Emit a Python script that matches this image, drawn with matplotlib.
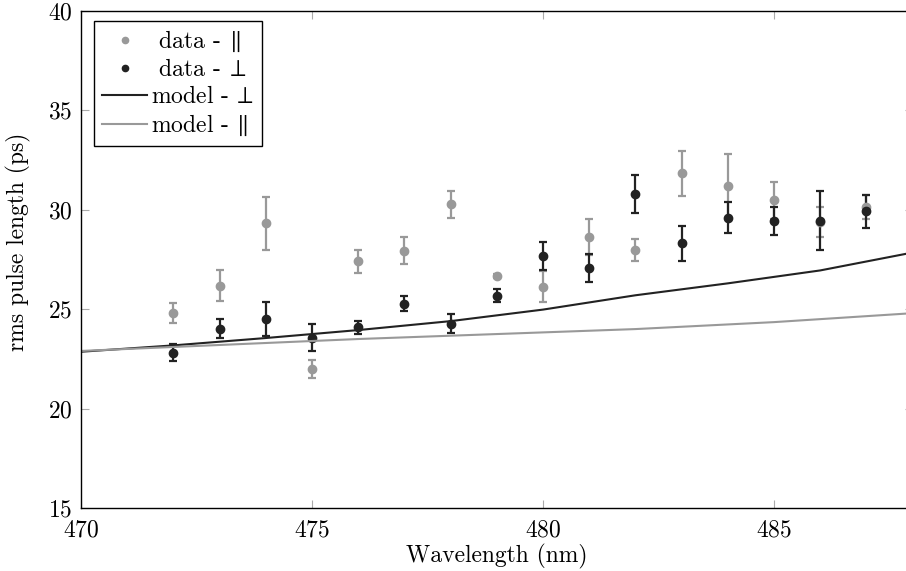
import matplotlib
matplotlib.use("Agg")
import matplotlib.pyplot as plt

plt.rcParams["font.family"] = "serif"
plt.rcParams["font.serif"] = ["cmr10"]
plt.rcParams["mathtext.fontset"] = "cm"
plt.rcParams["axes.formatter.use_mathtext"] = True

# measured data points (wavelength in nm, rms pulse length in ps)
wavelength = [472, 473, 474, 475, 476, 477, 478, 479, 480, 481, 482, 483, 484, 485, 486, 487]

par_val = [24.81, 26.18, 29.32, 21.99, 27.41, 27.93, 30.29, 26.65,
           26.13, 28.62, 27.99, 31.84, 31.21, 30.48, 29.40, 30.13]
par_err = [0.48, 0.77, 1.32, 0.43, 0.57, 0.68, 0.68, 0.10,
           0.78, 0.90, 0.56, 1.14, 1.61, 0.93, 0.75, 0.60]

perp_val = [22.80, 24.02, 24.51, 23.57, 24.10, 25.28, 24.27, 25.68,
            27.68, 27.07, 30.79, 28.31, 29.59, 29.44, 29.45, 29.92]
perp_err = [0.43, 0.49, 0.86, 0.68, 0.33, 0.39, 0.48, 0.34,
            0.71, 0.70, 0.94, 0.90, 0.78, 0.70, 1.49, 0.83]

# model curves
model_perp_x = [470, 472, 474, 476, 478, 480, 482, 484, 486, 488]
model_perp_y = [22.86, 23.18, 23.55, 23.95, 24.40, 24.98, 25.70, 26.30, 26.95, 27.85]
model_par_x = [470, 473, 476, 479, 482, 485, 488]
model_par_y = [22.90, 23.20, 23.50, 23.75, 24.00, 24.35, 24.80]

grey = "#999999"
dark = "#222222"
fs = 17

fig = plt.figure(figsize=(9.06, 5.71), dpi=100)
ax = fig.add_axes([81 / 906, 1 - 508 / 571, (912.6 - 81) / 906, (508 - 11) / 571])

# error bars first, then markers (labelled) so the legend shows only dots
ax.errorbar(wavelength, par_val, yerr=par_err, fmt="none", ecolor=grey,
            elinewidth=1.6, capsize=3.2, capthick=1.6)
ax.errorbar(wavelength, perp_val, yerr=perp_err, fmt="none", ecolor=dark,
            elinewidth=1.6, capsize=3.2, capthick=1.6)
ax.plot(wavelength, par_val, "o", color=grey, markersize=6, label=r" data - $\!\parallel$")
ax.plot(wavelength, perp_val, "o", color=dark, markersize=6, label=r" data - $\!\perp$")
ax.plot(model_perp_x, model_perp_y, color=dark, linewidth=1.5, label=r"model - $\!\perp$")
ax.plot(model_par_x, model_par_y, color=grey, linewidth=1.5, label=r"model - $\!\parallel$")

ax.set_xlim(470, 488)
ax.set_ylim(15, 40)
ax.set_xticks([470, 475, 480, 485])
ax.set_yticks([15, 20, 25, 30, 35, 40])
ax.tick_params(direction="in", length=6, width=0.8, color="#aaaaaa",
               labelsize=fs, top=True, right=True, pad=6)
ax.tick_params(axis="x", pad=8)
for s in ax.spines.values():
    s.set_linewidth(1.0)

ax.set_xlabel("Wavelength (nm)", fontsize=fs, labelpad=2)
ax.set_ylabel("rms pulse length (ps)", fontsize=fs)
ax.yaxis.set_label_coords(-0.06, 0.535)

leg = ax.legend(loc="upper left", bbox_to_anchor=(13 / 831.6, 1 - 10 / 497), fontsize=fs,
                fancybox=False, framealpha=1, edgecolor="black", borderaxespad=0,
                handlelength=1.9, handletextpad=0.15, labelspacing=0.2, borderpad=0.35,
                markerscale=0.75)
leg.get_frame().set_linewidth(1.0)

fig.savefig("out.png", dpi=100)
